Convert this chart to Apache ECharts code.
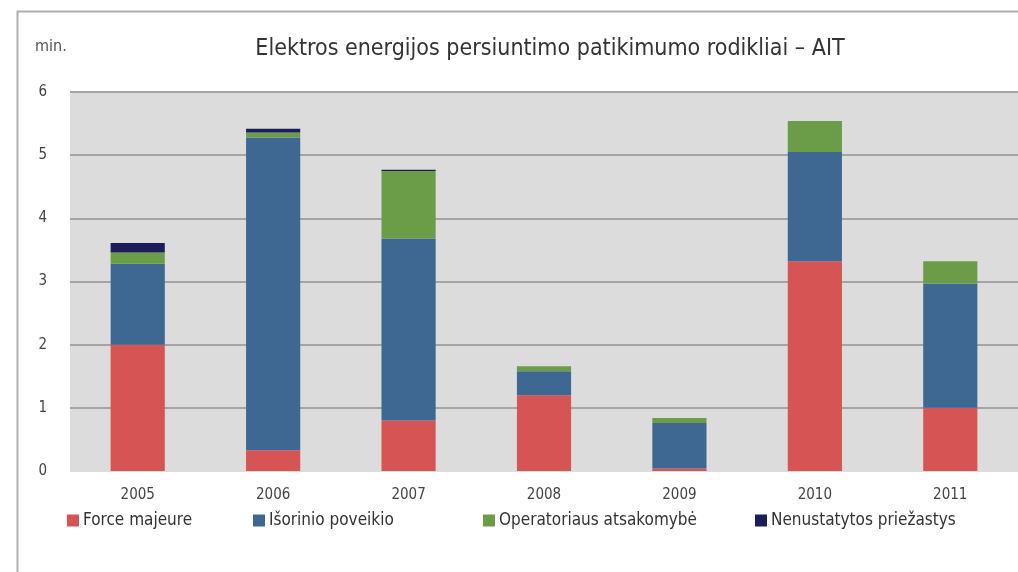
<!DOCTYPE html>
<html>
<head>
<meta charset="utf-8">
<script src="https://cdn.jsdelivr.net/npm/echarts@6/dist/echarts.min.js"></script>
<style>
  html, body { margin: 0; padding: 0; background: #fff; }
  #chart { width: 1018px; height: 572px; }
</style>
</head>
<body>
<div id="chart"></div>
<script>
// Reliability of electricity transmission – AIT (minutes), by cause
const years = ['2005', '2006', '2007', '2008', '2009', '2010', '2011'];
const forceMajeure = [2.0, 0.33, 0.8, 1.2, 0.04, 3.32, 1.0];
const isorinioPoveikio = [1.28, 4.95, 2.88, 0.38, 0.72, 1.73, 1.97];
const operatoriausAtsakomybe = [0.18, 0.08, 1.07, 0.08, 0.08, 0.49, 0.35];
const nenustatytosPriezastys = [0.15, 0.06, 0.02, 0, 0, 0, 0];
const yTicks = [0, 1, 2, 3, 4, 5, 6];

const seriesNames = ['Force majeure', 'Išorinio poveikio', 'Operatoriaus atsakomybė', 'Nenustatytos priežastys'];
const seriesData = [forceMajeure, isorinioPoveikio, operatoriausAtsakomybe, nenustatytosPriezastys];
const colors = ['#d65454', '#3e6892', '#6b9c48', '#1d1d5c'];
const legendLeft = [62, 248, 478, 750];

const font = '"Liberation Sans Narrow", "DejaVu Sans Condensed", "Open Sans", sans-serif';

// grid lines: the baseline at 0 blends into the plot background
const gridLineColors = yTicks.map(v => (v === 0 ? '#dcdcdc' : '#a4a4a4'));

const chart = echarts.init(document.getElementById('chart'), null, { renderer: 'canvas' });

chart.setOption({
  animation: false,
  backgroundColor: '#ffffff',
  textStyle: { fontFamily: font },
  title: {
    text: 'Elektros energijos persiuntimo patikimumo rodikliai – AIT',
    left: 545,
    textAlign: 'center',
    top: 33,
    textStyle: { fontFamily: font, fontSize: 23, fontWeight: 'normal', color: '#333' }
  },
  graphic: [
    {
      type: 'polyline',
      shape: { points: [[17.5, 600], [17.5, 11.5], [1030, 11.5]] },
      style: { stroke: '#b0b0b0', lineWidth: 2, fill: null },
      silent: true
    },
    {
      type: 'text',
      left: 35,
      top: 39,
      style: { text: 'min.', fontFamily: font, fontSize: 16, fill: '#555' }
    }
  ],
  legend: seriesNames.map((name, i) => ({
    data: [name],
    left: legendLeft[i],
    top: 507,
    itemWidth: 12,
    itemHeight: 12,
    icon: 'rect',
    itemGap: 4,
    textStyle: { fontFamily: font, fontSize: 17, color: '#333', padding: [0, 0, 0, -1] },
    selectedMode: false
  })),
  grid: {
    left: 70,
    top: 92,
    width: 956,
    height: 379,
    show: true,
    backgroundColor: '#dcdcdc',
    borderWidth: 0,
    containLabel: false
  },
  xAxis: {
    type: 'category',
    data: years,
    axisLine: { show: false },
    axisTick: { show: false },
    axisLabel: { fontFamily: font, fontSize: 15, color: '#444', margin: 17 }
  },
  yAxis: {
    type: 'value',
    min: 0,
    max: 6,
    interval: 1,
    axisLine: { show: false },
    axisTick: { show: false },
    axisLabel: {
      fontFamily: font, fontSize: 15, color: '#444', margin: 23,
      formatter: v => (yTicks.includes(v) ? String(v) : '')
    },
    splitLine: { lineStyle: { color: gridLineColors, width: 2 } }
  },
  series: seriesNames.map((name, i) => ({
    name,
    type: 'bar',
    stack: 'ait',
    barWidth: '40%',
    data: seriesData[i],
    itemStyle: { color: colors[i] },
    z: 3
  }))
});
</script>
</body>
</html>
